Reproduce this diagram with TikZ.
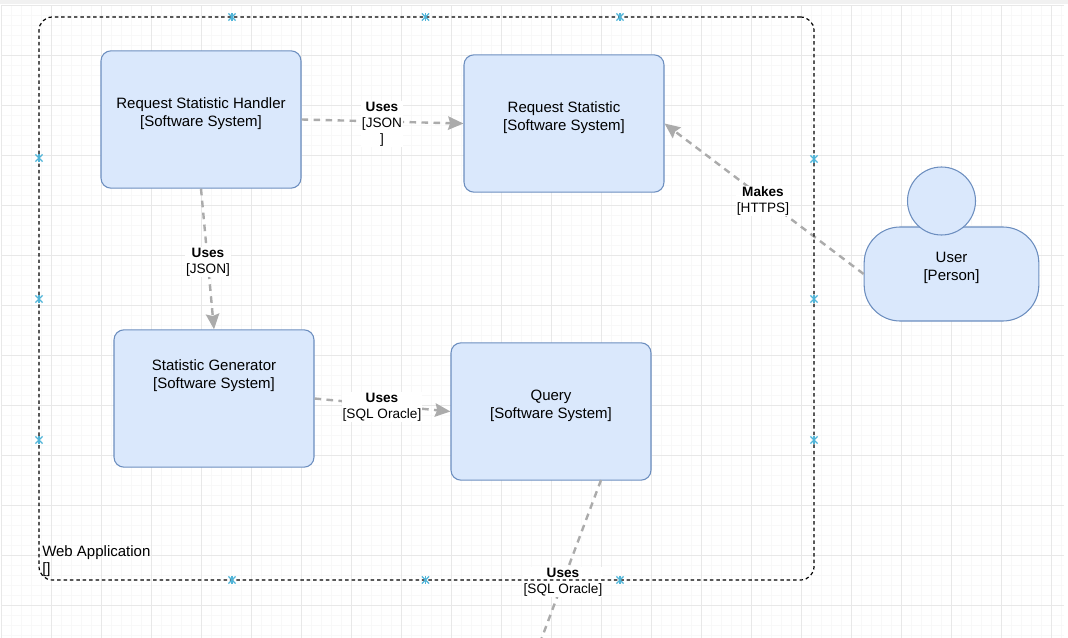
\documentclass[tikz,border=0pt]{standalone}
\usepackage{fontspec}
\setmainfont{Liberation Sans}
\usetikzlibrary{arrows.meta,shapes.misc}
\definecolor{boxfill}{HTML}{DAE8FC}
\definecolor{boxline}{HTML}{6C8EBF}
\definecolor{connline}{HTML}{ABABAB}
\definecolor{markblue}{HTML}{4FB4D8}
\definecolor{gridminor}{HTML}{F8F8F8}
\definecolor{gridmajor}{HTML}{E8E8E8}
\definecolor{topstrip}{HTML}{F1F1F1}
\tikzset{
  boxnode/.style={draw=boxline,fill=boxfill,line width=0.8pt,rounded corners=7.5pt,minimum width=150pt,minimum height=103pt,inner sep=0pt,align=center,font=\fontsize{11.25}{13.5}\selectfont},
  bodynode/.style={draw=boxline,fill=boxfill,line width=0.8pt,rounded corners=27pt,minimum width=131pt,minimum height=70.5pt,inner sep=0pt,align=center,font=\fontsize{11.25}{13.5}\selectfont},
  headnode/.style={draw=boxline,fill=boxfill,line width=0.8pt,circle,minimum size=51pt,inner sep=0pt},
  conn/.style={draw=connline,line width=1.8pt,dash pattern=on 5pt off 4pt,-{Stealth[length=11.5pt,width=10pt,inset=1.5pt]}},
  plainconn/.style={draw=connline,line width=1.8pt,dash pattern=on 5pt off 4pt},
  connlabel/.style={fill=white,inner sep=0.5pt,align=center,font=\fontsize{10.2}{12}\selectfont},
  webbox/.style={draw=black,line width=0.9pt,dash pattern=on 2.6pt off 2.2pt,rounded corners=10pt,minimum width=581.25pt,minimum height=422.25pt,inner sep=0pt},
  weblabel/.style={inner sep=0pt,anchor=north west,align=left,font=\fontsize{11.25}{13}\selectfont},
  conpoint/.style={cross out,draw=markblue,line width=0.9pt,minimum size=4.5pt,inner sep=0pt},
}
\begin{document}
\begin{tikzpicture}[x=0.75pt,y=0.75pt,yscale=-1,xscale=1]
  \useasboundingbox (0,0) rectangle (1068,638);
  \fill[topstrip] (0,0) rectangle (1068,4);
  \foreach \gx in {1,11,...,1061} \draw[gridminor,line width=0.6pt] (\gx,5) -- (\gx,638);
  \foreach \gy in {5,15,...,635} \draw[gridminor,line width=0.6pt] (1,\gy) -- (1064,\gy);
  \foreach \gx in {1,51,...,1051} \draw[gridmajor,line width=0.6pt] (\gx,5) -- (\gx,638);
  \foreach \gy in {5,55,...,605} \draw[gridmajor,line width=0.6pt] (1,\gy) -- (1064,\gy);

  \node[boxnode] (handler) at (201,119.5) {Request Statistic Handler\\{}[Software System]\\[-3pt]~};
  \node[boxnode] (stat) at (564,123.5) {Request Statistic\\{}[Software System]\\[-3pt]~};
  \node[boxnode] (generator) at (214,398.5) {Statistic Generator\\{}[Software System]\\~\\~\\[-4.5pt]~};
  \node[boxnode] (query) at (551,411.5) {Query\\{}[Software System]\\[-3pt]~};
  \node[bodynode] (user) at (951.5,274) {User\\{}[Person]\\[-1.5pt]~};
  \node[headnode] (userhead) at (941.5,201) {};

  \coordinate (queryout) at (601,480);
  \coordinate (queryend) at (541,640);

  \draw[conn] (handler.east) -- (stat.west);
  \draw[conn] (handler.south) -- (generator.north);
  \draw[conn] (generator.east) -- (query.west);
  \draw[conn] (user.west) -- (stat.east);
  \draw[plainconn] (queryout) -- (queryend);

  \node[connlabel] (uses1) at (382,124) {\textbf{Uses}\\{}[JSON\\{}]};
  \node[connlabel] (uses2) at (208,262) {\textbf{Uses}\\{}[JSON]};
  \node[connlabel] (uses3) at (382,407) {\textbf{Uses}\\{}[SQL Oracle]};
  \node[connlabel] (uses4) at (563,582) {\textbf{Uses}\\{}[SQL Oracle]};
  \node[connlabel] (makes) at (763,201) {\textbf{Makes}\\{}[HTTPS]};

  \node[webbox] (webapp) at (426.5,298.5) {};
  \node[weblabel] (webtitle) at (42,545) {Web Application\\{}[]};

  \foreach \px/\py [count=\i] in {232/17,425.5/17,620/17,39/158,39/299,39/440,814/159,814/299,814/440,232/580,425.5/580,620/580} {
    \node[conpoint] (point\i) at (\px,\py) {};
    \draw[draw=markblue,line width=0.9pt] (point\i.north) -- (point\i.south);
  }
\end{tikzpicture}
\end{document}
